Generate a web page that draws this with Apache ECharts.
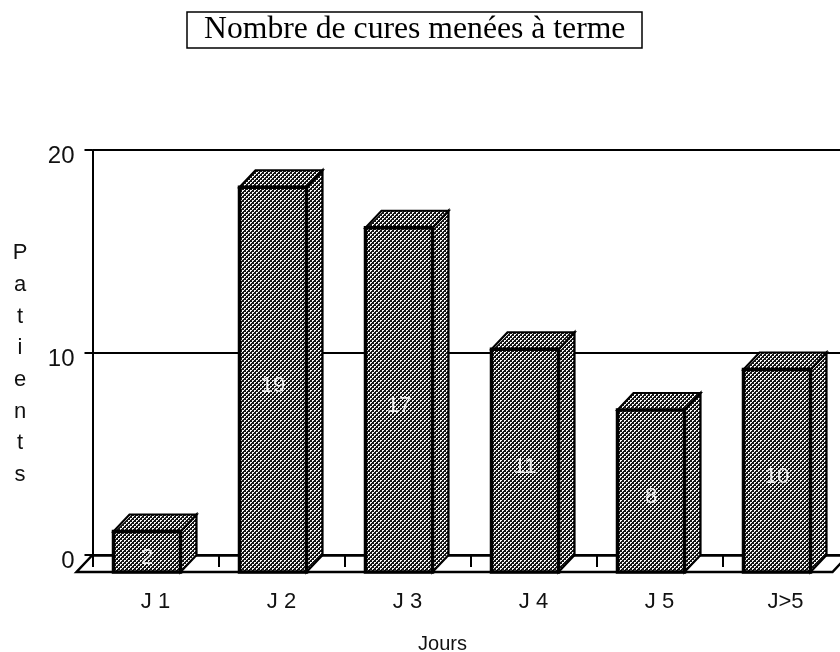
<!DOCTYPE html>
<html>
<head>
<meta charset="utf-8">
<script src="https://cdn.jsdelivr.net/npm/echarts@6/dist/echarts.min.js"></script>
<style>
  html, body { margin: 0; padding: 0; background: #fff; }
  #chart { width: 840px; height: 652px; }
</style>
</head>
<body>
<div id="chart"></div>
<script>
const categories = ['J 1', 'J 2', 'J 3', 'J 4', 'J 5', 'J>5'];
const patients = [2, 19, 17, 11, 8, 10];
const yTicks = [0, 10, 20];

// depth of the fake 3d box
const DX = 16, DY = 17, BAR_W = 67;
const SANS = '"Liberation Sans", Arial, sans-serif';

function dither() {
  const c = document.createElement('canvas');
  c.width = 4; c.height = 4;
  const g = c.getContext('2d');
  g.fillStyle = '#161616';
  g.fillRect(0, 0, 4, 4);
  g.fillStyle = '#f8f8f8';
  g.fillRect(0, 0, 2, 2);
  g.fillRect(2, 2, 2, 2);
  g.fillStyle = '#161616';
  g.fillRect(1, 1, 1, 1);
  g.fillRect(3, 3, 1, 1);
  return c;
}
const pattern = { image: dither(), repeat: 'repeat' };

function renderBar(params, api) {
  const i = api.value(0);
  const top = api.coord([i, api.value(1)]);
  const base = api.coord([i, 0]);
  // the front face sits half a depth left of the band centre, on the front floor
  const x0 = top[0] - DX / 2 - BAR_W / 2 - 0.5;
  const x1 = x0 + BAR_W;
  const y0 = top[1] + DY;
  const y1 = base[1] + DY;
  const thin = { fill: pattern, stroke: '#000', lineWidth: 2.2, lineJoin: 'miter' };
  return {
    type: 'group',
    children: [
      { type: 'polygon', shape: { points: [[x1, y0], [x1 + DX, y0 - DY], [x1 + DX, y1 - DY], [x1, y1]] }, style: thin },
      { type: 'polygon', shape: { points: [[x0, y0], [x0 + DX, y0 - DY], [x1 + DX, y0 - DY], [x1, y0]] }, style: thin },
      { type: 'rect', shape: { x: x0, y: y0, width: BAR_W, height: y1 - y0 },
        style: { fill: pattern, stroke: '#000', lineWidth: 3.5 } },
      { type: 'text', x: (x0 + x1) / 2, y: (y0 + y1) / 2 + 6,
        style: { text: String(api.value(1)), fill: '#f0f0f0', fontSize: 22, fontFamily: SANS,
          align: 'center', verticalAlign: 'middle' } }
    ]
  };
}

function renderFloor(params, api) {
  const band = api.size([1, 0])[0];
  const a = api.coord([0, 0]);
  const b = api.coord([categories.length - 1, 0]);
  const left = a[0] - band / 2, right = b[0] + band / 2, y = a[1];
  return {
    type: 'polyline',
    shape: { points: [[left, y], [left - DX, y + DY], [right - DX, y + DY], [right, y]] },
    style: { fill: null, stroke: '#000', lineWidth: 2.5 }
  };
}

const chart = echarts.init(document.getElementById('chart'));
chart.setOption({
  animation: false,
  backgroundColor: '#fff',
  title: {
    text: 'Nombre de cures menées à terme',
    left: 187, top: 12,
    padding: [2, 17, 2, 17],
    borderColor: '#000', borderWidth: 1.5,
    textStyle: { color: '#000', fontWeight: 'normal', fontSize: 31.7, fontFamily: '"Liberation Serif", serif' }
  },
  // stacked axis title sits below the middle of the axis, so it is placed by hand
  graphic: [{
    type: 'text', x: 20, y: 364,
    style: { text: 'Patients'.split('').join('\n'), fill: '#111', fontSize: 22, lineHeight: 31.7,
      fontFamily: SANS, align: 'center', verticalAlign: 'middle' }
  }],
  grid: { left: 92.5, top: 150, width: 756, height: 405, outerBoundsMode: 'none' },
  xAxis: {
    type: 'category',
    data: categories,
    name: 'Jours',
    nameLocation: 'middle',
    nameGap: 79,
    nameTextStyle: { color: '#111', fontSize: 20, fontFamily: SANS, padding: [0, 56, 0, 0] },
    axisLine: { lineStyle: { color: '#000', width: 2.5 } },
    axisTick: { show: true, length: 12, lineStyle: { color: '#000', width: 2 } },
    axisLabel: { color: '#111', fontSize: 22, fontFamily: SANS, margin: 36 }
  },
  yAxis: {
    type: 'value',
    min: yTicks[0], max: yTicks[yTicks.length - 1], interval: 10,
    axisLine: { show: true, lineStyle: { color: '#000', width: 2 } },
    axisTick: { show: true, length: 8, lineStyle: { color: '#000', width: 2 } },
    axisLabel: { color: '#111', fontSize: 24, fontFamily: SANS, margin: 18, verticalAlign: 'top', lineHeight: 13 },
    splitLine: { show: true, lineStyle: { color: '#000', width: 2, type: 'solid' } }
  },
  series: [
    { type: 'custom', renderItem: renderFloor, data: [[0]], silent: true, z: 1 },
    { type: 'custom', renderItem: renderBar, data: patients.map((v, i) => [i, v]), z: 2 }
  ]
});
</script>
</body>
</html>
